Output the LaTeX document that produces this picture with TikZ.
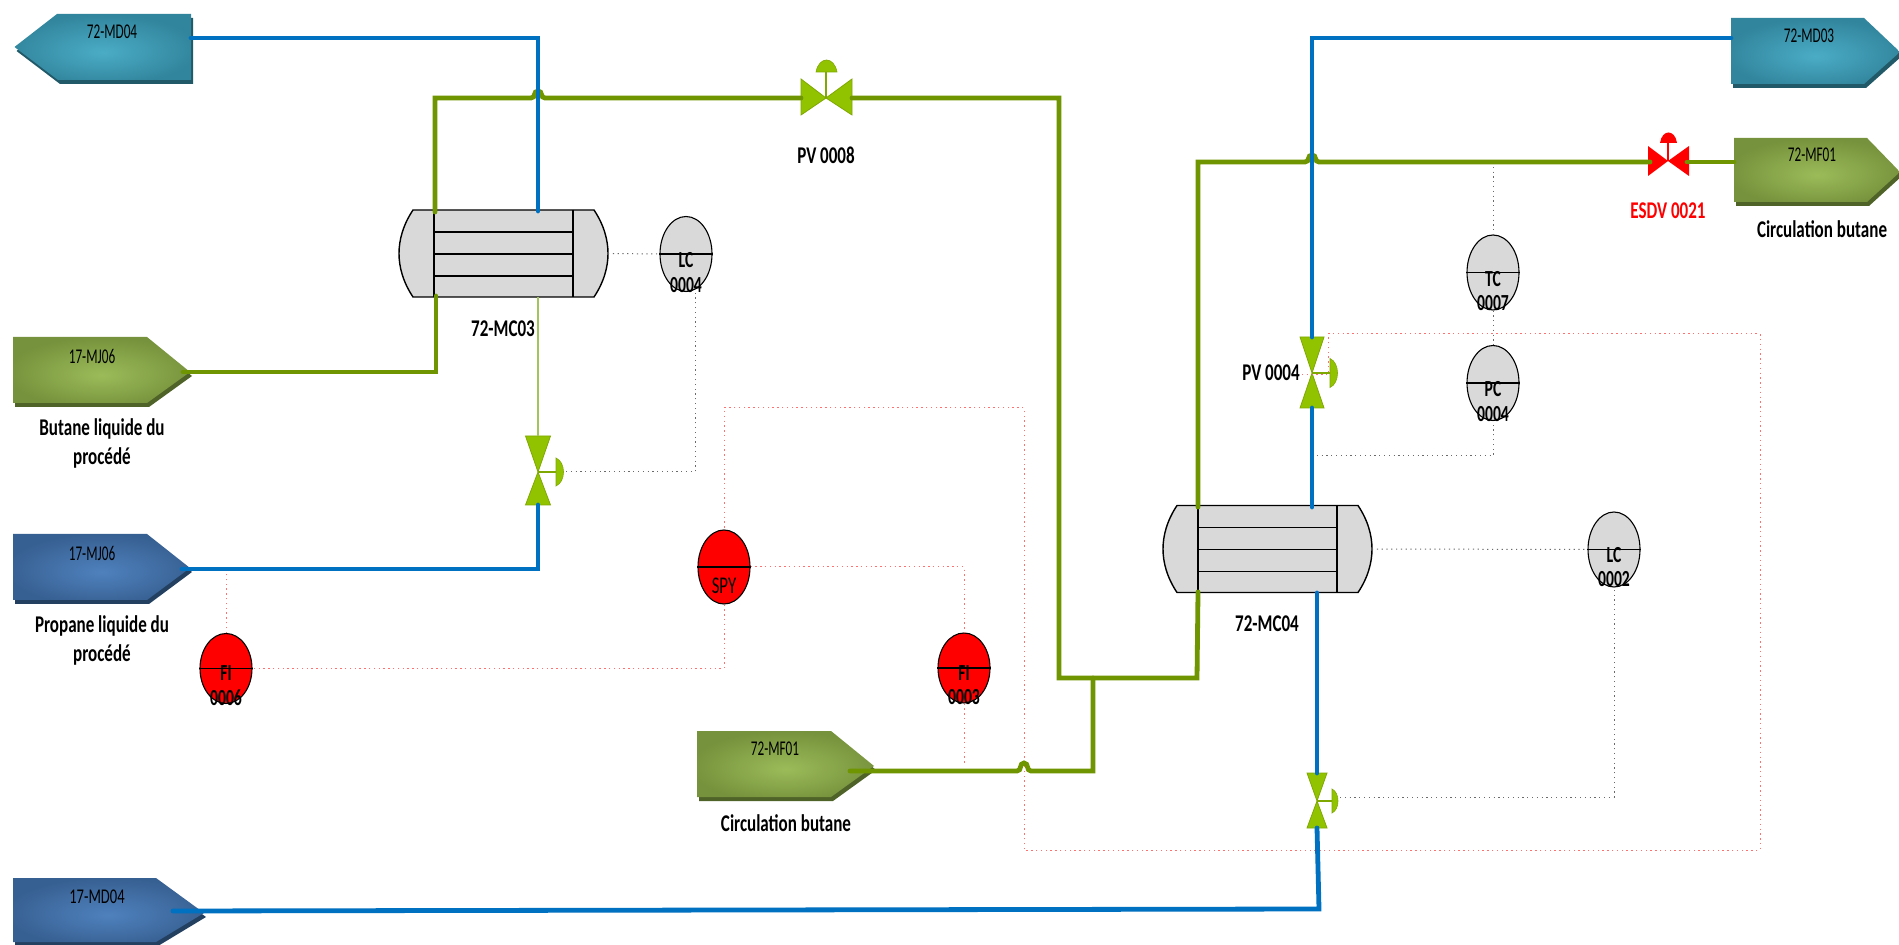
\documentclass[tikz,border=0pt]{standalone}
\usepackage{fontspec}
\setmainfont{Carlito}
\usetikzlibrary{shapes.geometric}
\definecolor{pipeblue}{HTML}{0070C0}
\definecolor{pipegreen}{HTML}{6F9600}
\definecolor{thingreen}{HTML}{A3C35C}
\definecolor{valvegreen}{HTML}{92C300}
\definecolor{valveedge}{HTML}{7FA800}
\definecolor{instgray}{HTML}{D9D9D9}
\definecolor{dotgray}{HTML}{6A6A6A}
\definecolor{dotred}{HTML}{FF7070}
\definecolor{tagGi}{HTML}{9BBB59}\definecolor{tagGo}{HTML}{76923C}\definecolor{tagGd}{HTML}{4F6228}
\definecolor{tagBi}{HTML}{4F81BD}\definecolor{tagBo}{HTML}{376092}\definecolor{tagBd}{HTML}{244061}
\definecolor{tagTi}{HTML}{4BACC6}\definecolor{tagTo}{HTML}{31859C}\definecolor{tagTd}{HTML}{215968}
\pgfdeclareradialshading{tagGsh}{\pgfpoint{0bp}{-4bp}}{color(0bp)=(tagGi); color(27bp)=(tagGo); color(50bp)=(tagGo)}
\pgfdeclareradialshading{tagBsh}{\pgfpoint{0bp}{-4bp}}{color(0bp)=(tagBi); color(27bp)=(tagBo); color(50bp)=(tagBo)}
\pgfdeclareradialshading{tagTsh}{\pgfpoint{0bp}{-4bp}}{color(0bp)=(tagTi); color(27bp)=(tagTo); color(50bp)=(tagTo)}
\tikzset{
  bluepipe/.style={draw=pipeblue,line width=2.4pt,line cap=round,line join=miter},
  greenpipe/.style={draw=pipegreen,line width=2.4pt,line cap=round,line join=miter},
  grayloop/.style={draw=dotgray,line width=.5pt,dash pattern=on .6pt off 1.8pt},
  redloop/.style={draw=dotred,line width=.5pt,dash pattern=on .7pt off 1.7pt},
  inst/.style={shape=ellipse,draw=black,line width=.55pt,inner sep=0pt,minimum width=26pt},
  tagtext/.style={font=\fontsize{10.5}{12}\selectfont,xscale=.63,text=black,inner sep=0pt},
  insttext/.style={font=\bfseries\fontsize{11.5}{13}\selectfont,xscale=.68,text=black,inner sep=0pt},
  spytext/.style={font=\fontsize{12}{13}\selectfont,xscale=.7,text=black,inner sep=0pt},
  boldlabel/.style={font=\bfseries\fontsize{12}{14}\selectfont,xscale=.71,text=black,inner sep=0pt},
  pics/exchanger/.style={code={
    \draw[fill=instgray,line width=.7pt] (14,0) -- (195,0) .. controls (205,15) and (209,30) .. (209,43.5)
      .. controls (209,57) and (205,72) .. (195,87) -- (14,87) .. controls (4,72) and (0,57) .. (0,43.5)
      .. controls (0,30) and (4,15) .. (14,0) -- cycle;
    \draw[line width=.7pt] (35,0) -- (35,87) (174,0) -- (174,87);
    \draw[line width=.7pt] (35,22) -- (174,22) (35,44) -- (174,44) (35,66) -- (174,66);
    \coordinate (-east) at (209,43.5);
  }}
}
% name, five points, colour prefix
\newcommand{\pipetag}[7]{%
  \fill[#7d,shift={(2,4)}] #2 -- #3 -- #4 -- #5 -- #6 -- cycle;
  \shade[shading=#7sh] #2 -- #3 -- #4 -- #5 -- #6 -- cycle;
}
% name, x, ytop, ywaist, ybot, halfwidth, xstem, xdome, domehalf
\newcommand{\vvalve}[9]{%
  \draw[fill=valvegreen,draw=valveedge,line width=.4pt] (#2-#6,#3) -- (#2+#6,#3) -- (#2,#4) -- (#2+#6,#5) -- (#2-#6,#5) -- (#2,#4) -- cycle;
  \draw[valveedge,line width=.6pt] (#2,#4) -- (#7,#4);
  \draw[fill=valvegreen,draw=valveedge,line width=.3pt] (#7,#4-#9) .. controls (#8,#4-.7*#9) and (#8,#4+.7*#9) .. (#7,#4+#9) -- cycle;
  \coordinate (#1-top) at (#2,#3);
  \coordinate (#1-bot) at (#2,#5);
}
\newcommand{\instr}[6]{%
  \node[inst,fill=#4,minimum height=#5*.5pt] (#1) at (#2,#3) {};
  \draw[line width=.75pt] (#1.west) -- (#1.east);
}
\begin{document}
\begin{tikzpicture}[x=0.5pt,y=-0.5pt]
\useasboundingbox (0,0) rectangle (1899,945);
\fill[white] (0,0) rectangle (1899,945);

% exchangers
\pic (hxa) at (399,210) {exchanger};
\pic (hxb) at (1163,505.5) {exchanger};

% tags
\pipetag{mda}{(14.5,47)}{(57,14)}{(191,14)}{(191,80)}{(58,80)}{tagT}
\pipetag{mdb}{(1731,18)}{(1864,18)}{(1900,52)}{(1864,84)}{(1731,84)}{tagT}
\pipetag{mfa}{(1734,138)}{(1867,138)}{(1900,172)}{(1867,202)}{(1734,202)}{tagG}
\pipetag{mja}{(13,337)}{(147,337)}{(190,372)}{(147,403)}{(13,403)}{tagG}
\pipetag{mjb}{(13,534)}{(147,534)}{(190,568)}{(147,600)}{(13,600)}{tagB}
\pipetag{mdc}{(13,878)}{(156,878)}{(204,913)}{(156,942)}{(13,942)}{tagB}
\pipetag{mfb}{(697,731)}{(831,731)}{(874,766)}{(831,797)}{(697,797)}{tagG}
\coordinate (mda-out) at (191,38);
\coordinate (mdb-in) at (1731,38);
\coordinate (mfa-in) at (1734,162);
\coordinate (mja-out) at (183,372);
\coordinate (mjb-out) at (182,569);
\coordinate (mdc-out) at (173,911);
\coordinate (mfb-out) at (850,771);

% valves
\vvalve{va}{538}{436}{472}{505}{12.5}{556}{566}{14}
\vvalve{vb}{1312}{337}{373}{408}{12}{1330}{1340}{14.5}
\vvalve{vc}{1317}{773}{801}{828}{10}{1332}{1340}{12}
\draw[fill=valvegreen,draw=valveedge,line width=.4pt] (801,79) -- (826,98) -- (852,79) -- (852,115) -- (826,98) -- (801,115) -- cycle;
\draw[valveedge,line width=.6pt] (826,98) -- (826,72);
\draw[fill=valvegreen,draw=valveedge,line width=.3pt] (816,72) .. controls (819,56) and (834,56) .. (837,72) -- cycle;
\coordinate (pv8-l) at (801,98);
\coordinate (pv8-r) at (852,98);
\fill[red] (1648,146) -- (1668,161) -- (1689,146) -- (1689,176) -- (1668,161) -- (1648,176) -- cycle;
\draw[red,line width=.6pt] (1668,161) -- (1668,143);
\fill[red] (1660,143) .. controls (1662,129) and (1675,129) .. (1677,143) -- cycle;
\coordinate (esd-l) at (1650,162);
\coordinate (esd-r) at (1687,162);

% instruments
\instr{lca}{686}{254}{instgray}{75}{}
\instr{lcb}{1614}{549.5}{instgray}{75}{}
\instr{tc}{1493}{272.5}{instgray}{75}{}
\instr{pc}{1493}{383}{instgray}{75}{}
\instr{spy}{724}{567}{red}{74}{}
\instr{fia}{226}{668.5}{red}{70}{}
\instr{fib}{964}{668}{red}{70}{}

% signal lines
\coordinate (lca-b) at (695,292);
\coordinate (vaact) at (566,472);
\draw[grayloop] (vaact) -| (lca-b);
\draw[grayloop] (hxa-east) -- (lca.west);
\draw[grayloop] (hxb-east) -- (lcb.west);
\coordinate (vcact) at (1340,797);
\draw[grayloop] (vcact) -| (lcb.south);
\coordinate (blueTap) at (1312,456);
\draw[grayloop] (blueTap) -| (pc.south);
\draw[grayloop] (tc.south) -- (pc.north);
\coordinate (greenTap) at (1493,162);
\draw[grayloop] (greenTap) -- (tc.north);

\coordinate (r1) at (1302,375);
\coordinate (r2) at (1328,375);
\coordinate (r3) at (1328,334);
\coordinate (r4) at (1760,334);
\coordinate (r5) at (1760,850);
\coordinate (r6) at (1024,850);
\coordinate (r7) at (1024,408);
\draw[redloop] (r1) -- (r2) -- (r3) -- (r4) -- (r5) -- (r6) -- (r7) -| (spy.north);
\draw[redloop] (spy.south) |- (fia.east);
\draw[redloop] (spy.east) -| (fib.north);
\coordinate (fitapa) at (226,572);
\draw[redloop] (fia.north) -- (fitapa);
\coordinate (fitapb) at (964,764);
\draw[redloop] (fib.south) -- (fitapb);

% green pipes
\draw[greenpipe] (435,212) -- (435,98) -- (531,98) .. controls (536,98) and (533,91) .. (538,91) .. controls (543,91) and (540,98) .. (545,98) -- (pv8-l);
\draw[greenpipe] (pv8-r) -- (1059,98) -- (1059,678) -- (1197,678) -- (1198,592);
\draw[greenpipe] (1198,507) -- (1198,162) -- (1305,162) .. controls (1310,162) and (1307,155) .. (1312,155) .. controls (1317,155) and (1314,162) .. (1319,162) -- (esd-l);
\draw[greenpipe] (esd-r) -- (mfa-in);
\draw[greenpipe] (1093,678) -- (1093,771) -- (1031,771) .. controls (1026,771) and (1029,763) .. (1024,763) .. controls (1019,763) and (1022,771) .. (1017,771) -- (mfb-out);
\draw[greenpipe] (mja-out) -- (436,372) -- (436,296);
\draw[draw=thingreen,line width=.9pt] (538,297) -- (va-top);

% blue pipes
\draw[bluepipe] (mda-out) -| (538,211);
\draw[bluepipe] (mdb-in) -| (vb-top);
\draw[bluepipe] (vb-bot) -- (1312,507);
\draw[bluepipe] (1317,593) -- (vc-top);
\draw[bluepipe] (mjb-out) -| (va-bot);
\draw[bluepipe] (mdc-out) -- (1319,909) -- (vc-bot);

% tag texts
\node[tagtext] (t1) at (112,32) {72-MD04};
\node[tagtext] (t2) at (1809,36) {72-MD03};
\node[tagtext] (t3) at (1812,155) {72-MF01};
\node[tagtext] (t4) at (92,356) {17-MJ06};
\node[tagtext] (t5) at (92,553) {17-MJ06};
\node[tagtext,xscale=1.1] (t6) at (97,897) {17-MD04};
\node[tagtext] (t7) at (775,749) {72-MF01};

% labels
\node[boldlabel] (l1) at (503,329) {72-MC03};
\node[boldlabel] (l2) at (1267,624) {72-MC04};
\node[boldlabel] (l3) at (826,155) {PV 0008};
\node[boldlabel] (l4) at (1271,373) {PV 0004};
\node[boldlabel,text=red] (l5) at (1668,211) {ESDV 0021};
\node[boldlabel] (l6) at (1822,229) {Circulation butane};
\node[boldlabel] (l7) at (786,823) {Circulation butane};
\node[boldlabel] (l8) at (102,429) {Butane liquide du};
\node[boldlabel] (l9) at (102,458) {procédé};
\node[boldlabel] (l10) at (102,626) {Propane liquide du};
\node[boldlabel] (l11) at (102,655) {procédé};

% instrument texts
\node[insttext] (i1a) at (686,260) {LC};
\node[insttext] (i1b) at (686,285) {0004};
\node[insttext] (i2a) at (1614,555) {LC};
\node[insttext] (i2b) at (1614,579) {0002};
\node[insttext] (i3a) at (1493,279) {TC};
\node[insttext] (i3b) at (1493,303) {0007};
\node[insttext] (i4a) at (1493,389) {PC};
\node[insttext] (i4b) at (1493,414) {0004};
\node[spytext] (i5) at (724,586) {SPY};
\node[insttext] (i6a) at (226,673) {FI};
\node[insttext] (i6b) at (226,698) {0006};
\node[insttext] (i7a) at (964,673) {FI};
\node[insttext] (i7b) at (964,697) {0003};
\end{tikzpicture}
\end{document}
